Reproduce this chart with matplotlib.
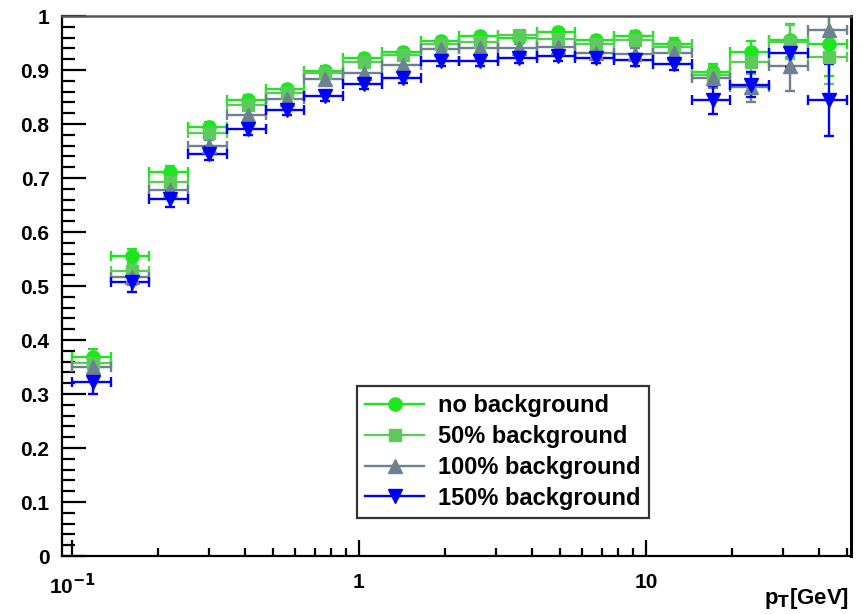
import matplotlib
matplotlib.use("Agg")
import matplotlib.pyplot as plt
from matplotlib.lines import Line2D
from matplotlib.ticker import FixedLocator, MultipleLocator, NullFormatter
import numpy as np

# pT bin edges [GeV]
bin_edges = [0.100, 0.1364, 0.1862, 0.2540, 0.3466, 0.4729, 0.6452, 0.8803,
             1.2011, 1.6388, 2.2361, 3.0509, 4.1627, 5.6796, 7.7493, 10.573,
             14.427, 19.684, 26.857, 36.644, 50.0]

labels = ["no background", "50% background", "100% background", "150% background"]

eff_no_bg = [0.368, 0.556, 0.712, 0.795, 0.845, 0.864, 0.899, 0.922, 0.934, 0.954,
             0.963, 0.960, 0.970, 0.955, 0.963, 0.949, 0.897, 0.934, 0.955, 0.949]
err_no_bg = [0.015, 0.012, 0.010, 0.009, 0.008, 0.008, 0.008, 0.007, 0.007, 0.007,
             0.007, 0.007, 0.007, 0.008, 0.009, 0.010, 0.015, 0.020, 0.030, 0.060]

eff_50 = [0.358, 0.527, 0.693, 0.784, 0.835, 0.858, 0.894, 0.914, 0.928, 0.949,
          0.952, 0.965, 0.958, 0.949, 0.956, 0.942, 0.891, 0.915, 0.952, 0.925]
err_50 = [0.016, 0.013, 0.011, 0.010, 0.009, 0.008, 0.008, 0.008, 0.008, 0.008,
          0.008, 0.008, 0.008, 0.008, 0.009, 0.010, 0.016, 0.022, 0.032, 0.050]

eff_100 = [0.350, 0.517, 0.678, 0.760, 0.816, 0.847, 0.883, 0.894, 0.909, 0.938,
           0.941, 0.940, 0.943, 0.932, 0.930, 0.932, 0.885, 0.868, 0.907, 0.975]
err_100 = [0.018, 0.015, 0.012, 0.011, 0.010, 0.009, 0.009, 0.009, 0.009, 0.008,
           0.008, 0.008, 0.008, 0.009, 0.010, 0.011, 0.018, 0.028, 0.045, 0.062]

eff_150 = [0.322, 0.507, 0.661, 0.745, 0.791, 0.826, 0.852, 0.874, 0.886, 0.917,
           0.917, 0.922, 0.926, 0.923, 0.919, 0.912, 0.844, 0.873, 0.931, 0.845]
err_150 = [0.022, 0.018, 0.014, 0.012, 0.011, 0.010, 0.010, 0.010, 0.010, 0.009,
           0.009, 0.009, 0.009, 0.010, 0.011, 0.012, 0.026, 0.023, 0.025, 0.067]

colors = ["#1ee61e", "#5ccb5c", "#6e8191", "#0000ff"]
markers = ["o", "s", "^", "v"]
msizes = [9.5, 8.5, 10, 10]

plt.rcParams['font.family'] = ['Liberation Sans', 'DejaVu Sans']
plt.rcParams['font.weight'] = 'bold'
plt.rcParams['mathtext.default'] = 'bf'

fig = plt.figure(figsize=(8.63, 6.14), dpi=100)
ax = fig.add_axes([62/863, 1 - 556/614, (851-62)/863, (556-16)/614])

edges = np.array(bin_edges)
lo = edges[:-1]
hi = edges[1:]
xc = (lo + hi) / 2
xerr = np.vstack([xc - lo, hi - xc])

series = [(eff_no_bg, err_no_bg), (eff_50, err_50), (eff_100, err_100), (eff_150, err_150)]
for (y, e), c, m, ms in zip(series, colors, markers, msizes):
    ax.errorbar(xc, y, yerr=e, xerr=xerr, fmt=m, color=c, ms=ms, mec=c, mfc=c,
                elinewidth=1.7, capsize=3.5, capthick=1.7, clip_on=True)

ax.set_xscale('log')
ax.set_xlim(0.0923, 51.8)
ax.set_ylim(0, 1.0)

ax.yaxis.set_minor_locator(MultipleLocator(0.02))
yt = np.arange(0, 11) / 10
ax.set_yticks(yt)
ax.set_yticklabels(["0"] + ["%.1f" % v for v in yt[1:-1]] + ["1"])

ax.xaxis.set_major_locator(FixedLocator([0.1, 1, 10]))
ax.set_xticklabels([r"10$^{-1}$", "1", "10"])
minors = [k * 10.0**d for d in (-1, 0, 1) for k in range(2, 10) if k * 10.0**d <= 50]
ax.xaxis.set_minor_locator(FixedLocator(minors))
ax.xaxis.set_minor_formatter(NullFormatter())

ax.tick_params(axis='y', which='major', direction='in', length=17, width=1.6,
               labelsize=15, pad=9, right=False)
ax.tick_params(axis='y', which='minor', direction='in', length=9, width=1.6, right=False)
ax.tick_params(axis='x', which='major', direction='in', length=11.5, width=1.6,
               labelsize=15, pad=12, top=False)
ax.tick_params(axis='x', which='minor', direction='in', length=6, width=1.6, top=False)

for s in ['left', 'bottom']:
    ax.spines[s].set_linewidth(1.6)
ax.spines['top'].set_linewidth(1.8)
ax.spines['top'].set_color('#555555')
ax.spines['right'].set_linewidth(2.2)

ax.text(0.998, -0.079, r"p$_{\mathbf{T}}$[GeV]", transform=ax.transAxes, ha='right',
        va='center', fontsize=16, fontweight='bold')

handles = [Line2D([0], [0], color=c, marker=m, ms=ms, lw=1.7, mfc=c, mec=c)
           for c, m, ms in zip(colors, markers, msizes)]
leg = ax.legend(handles, labels, loc='upper left',
                bbox_to_anchor=((357-62)/789, 1 - (386-16)/540),
                fontsize=17, frameon=True, fancybox=False, edgecolor='black',
                borderpad=0.35, labelspacing=0.33, handlelength=2.5, handletextpad=0.6,
                borderaxespad=0)
leg.get_frame().set_linewidth(1.6)

fig.savefig("out.png", dpi=100, facecolor='white')
